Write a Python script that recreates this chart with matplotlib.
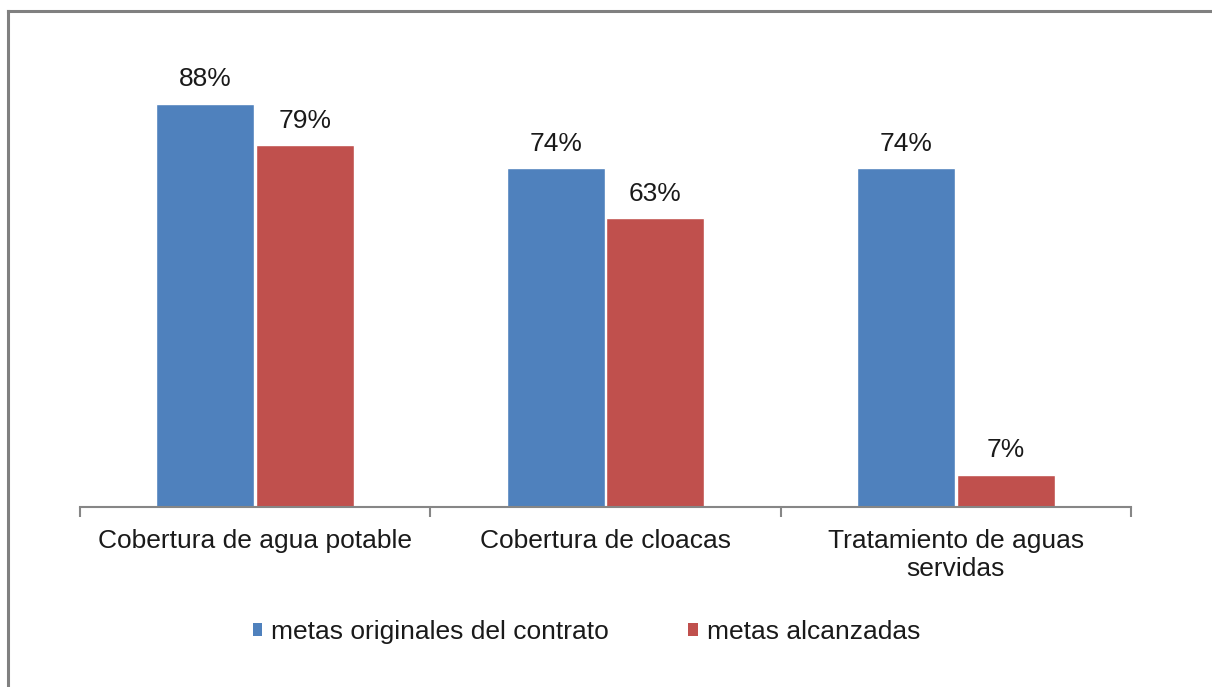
import numpy as np
import matplotlib.pyplot as plt
from matplotlib.patches import Patch
from matplotlib.lines import Line2D

plt.rcParams['font.family'] = ['Liberation Sans', 'DejaVu Sans']

# Data
categories = ['Cobertura de agua potable', 'Cobertura de cloacas', 'Tratamiento de aguas\nservidas']
originales = [88, 74, 74]
alcanzadas = [79, 63, 7]
series_names = ['metas originales del contrato', 'metas alcanzadas']

blue = '#4F81BD'
red = '#C0504D'
axis_gray = '#868686'
text_color = '#1a1a1a'
fs = 19

fig = plt.figure(figsize=(12.12, 6.87), dpi=100)
ax = fig.add_axes([80 / 1212, (687 - 507) / 687, 1051 / 1212, 458 / 687])

x = np.arange(len(categories))
w = 0.28
off = 0.142
b1 = ax.bar(x - off, originales, w, color=blue, edgecolor='white', linewidth=1)
b2 = ax.bar(x + off, alcanzadas, w, color=red, edgecolor='white', linewidth=1)

for bars, vals in ((b1, originales), (b2, alcanzadas)):
    for bar, v in zip(bars, vals):
        ax.annotate(f'{v}%', (bar.get_x() + bar.get_width() / 2, v),
                    xytext=(0, 9), textcoords='offset points',
                    ha='center', va='bottom', fontsize=fs, color=text_color)

ax.set_xlim(-0.5, len(categories) - 0.5)
ax.set_ylim(0, 100)
ax.set_yticks([])
for s in ['left', 'right', 'top']:
    ax.spines[s].set_visible(False)
ax.spines['bottom'].set_color(axis_gray)
ax.spines['bottom'].set_linewidth(1.5)

# group separators as major ticks, labels on minor ticks
ax.set_xticks(np.arange(len(categories) + 1) - 0.5)
ax.set_xticklabels([])
ax.tick_params(axis='x', which='major', length=7, width=1.5, color=axis_gray)
ax.set_xticks(x, minor=True)
ax.set_xticklabels(categories, minor=True, fontsize=fs, color=text_color, linespacing=1.25)
ax.tick_params(axis='x', which='minor', length=0, pad=15.5)

handles = [Patch(facecolor=blue), Patch(facecolor=red)]
fig.legend(handles, series_names, loc='center', bbox_to_anchor=(0.484, 1 - 632 / 687),
           ncol=2, frameon=False, fontsize=fs, handlelength=0.36, handleheight=0.36,
           handletextpad=0.35, columnspacing=3.0, labelcolor=text_color)

# outer border (left and top only visible)
fig.add_artist(Line2D([8 / 1212, 8 / 1212], [0, 1 - 11 / 687], color='#808080', linewidth=2.2,
                      transform=fig.transFigure))
fig.add_artist(Line2D([8 / 1212, 1], [1 - 11 / 687, 1 - 11 / 687], color='#808080', linewidth=2.2,
                      transform=fig.transFigure))

fig.savefig('out.png', dpi=100)
